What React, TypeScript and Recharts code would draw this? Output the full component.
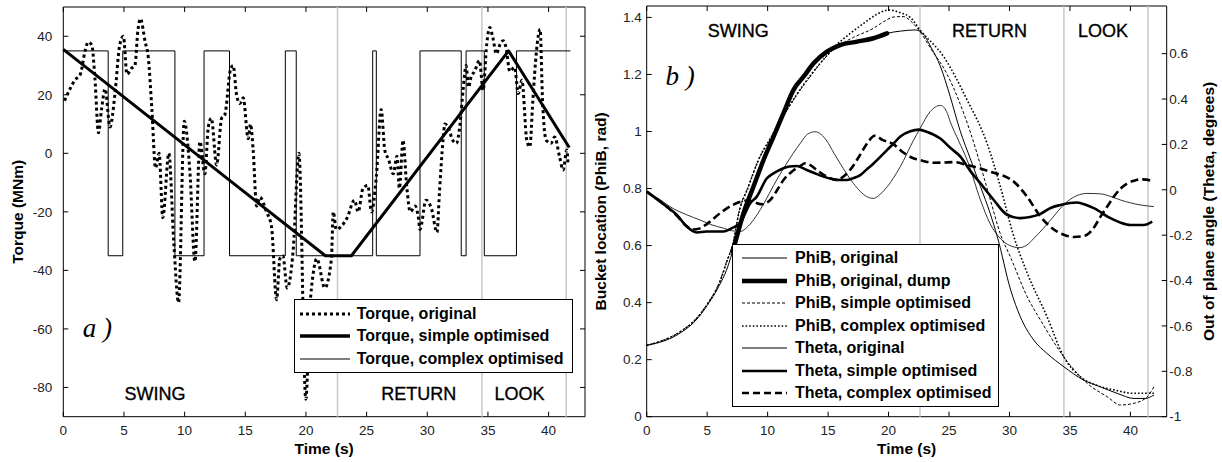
import React from "react";
import {
  LineChart,
  Line,
  XAxis,
  YAxis,
  ReferenceLine,
  ReferenceArea,
  ReferenceDot,
  Legend,
} from "recharts";

// ---- values ----

const timeTicks = [0, 5, 10, 15, 20, 25, 30, 35, 40];
const torqueTicks = [-80, -60, -40, -20, 0, 20, 40];
const phiTicks = [0, 0.2, 0.4, 0.6, 0.8, 1, 1.2, 1.4];
const thetaTicks = [-1, -0.8, -0.6, -0.4, -0.2, 0, 0.2, 0.4, 0.6];

// phase boundaries (s) and the phase captions
const phaseBounds = [22.6, 34.5, 41.45];
const phaseNames = ["SWING", "RETURN", "LOOK"];
const phaseTimesA = [7.55, 29.3, 37.6];
const phaseTimesB = [7.58, 28.34, 37.73];

// [t (s), torque (MNm)]
const torqueOriginal = [
  [0.1, 18], [0.55, 22], [0.95, 25], [1.4, 27], [1.8, 35], [2.05, 38], [2.35, 37],
  [2.6, 26], [2.9, 7], [3.15, 15], [3.45, 22], [3.85, 9], [4.25, 20], [4.65, 37],
  [4.95, 40], [5.25, 27], [5.6, 29], [5.9, 30], [6.15, 42], [6.35, 46], [6.75, 38],
  [7.0, 33], [7.3, 15], [7.6, -5], [7.9, 0], [8.2, -22], [8.7, 0], [9.1, -30],
  [9.5, -51], [9.97, 11], [10.43, -6], [10.85, -37], [11.26, 4], [11.67, -7],
  [11.95, 9], [12.2, 12], [12.64, -4], [13.05, 12], [13.3, 13], [13.8, 29],
  [14.0, 30], [14.28, 20], [14.55, 17], [14.83, 19], [15.24, 5], [15.43, 10],
  [15.65, 1], [15.93, -18], [16.2, -15], [16.75, -20], [17.16, -25], [17.58, -50],
  [17.85, -36], [18.1, -35], [18.45, -46], [18.95, -33], [19.42, 0], [19.99, -84],
  [20.32, -53], [20.6, -41], [20.9, -36], [21.55, -46], [22.1, -36], [22.25, -20],
  [22.5, -26], [22.9, -25], [23.4, -22], [24.0, -16], [24.3, -20], [24.7, -12],
  [25.1, -11], [25.4, -20], [25.8, -8], [26.2, 15], [26.5, 1], [26.8, -2],
  [27.2, -7], [27.5, -1], [27.7, -12], [28.0, 4.5], [28.3, -11], [28.6, -20],
  [29.0, -18], [29.25, -21.5], [29.4, -26], [29.9, -16], [30.35, -19], [30.8, -27],
  [31.0, -13.6], [31.3, 4.5], [31.45, 10], [31.7, 9], [32.1, 4.5], [32.4, 3.4],
  [32.7, 10], [32.95, 21.5], [33.2, 30], [33.4, 22.6], [33.6, 26], [33.9, 28],
  [34.3, 31.7], [34.6, 21.5], [34.9, 37.3], [35.15, 43], [35.4, 39.6], [35.7, 34],
  [36.0, 37.3], [36.25, 38.5], [36.5, 36], [36.8, 28], [37.2, 29.4], [37.5, 20.4],
  [37.8, 25], [38.2, 4.5], [38.45, 2.2], [38.7, 18], [39.0, 35], [39.3, 42.4],
  [39.5, 18], [39.8, 4.5], [40.2, 3.4], [40.5, 5.6], [40.9, -1.1], [41.2, -5.7],
  [41.5, 1.1], [41.6, -3.4],
];
const torqueSimple = [[0, 35.5], [21.6, -35], [23.75, -35], [36.7, 35], [41.7, 2]];
// bang-bang switching: each value is held until the next time
const torqueComplex = [
  [0, 35], [3.7, -35], [4.9, 35], [9.2, -35], [11.6, 35], [13.7, -35], [18.3, 35],
  [19.2, -35], [25.5, 35], [25.8, -35], [29.4, 35], [32.8, -35], [33.2, 35],
  [34.7, -35], [37.35, 35], [41.8, 35],
];

// [t (s), PhiB (rad)]
const phiOriginal = [
  [0, 0.25], [1, 0.26], [2, 0.275], [3, 0.3], [4, 0.335], [5, 0.39], [6, 0.46],
  [6.6, 0.514], [7.3, 0.608], [8.0, 0.713], [8.83, 0.807], [9.66, 0.9], [10.49, 0.982],
  [11.31, 1.064], [12.14, 1.146], [12.97, 1.192], [13.8, 1.239], [14.9, 1.28],
  [16.0, 1.303], [17.4, 1.315], [18.76, 1.327], [19.87, 1.344], [21.0, 1.352],
  [22.2, 1.356], [22.8, 1.345], [23.45, 1.3], [24.3, 1.227], [25.1, 1.122],
  [25.9, 1.005], [26.8, 0.9], [27.6, 0.807], [28.4, 0.713], [29.0, 0.63], [30.1, 0.444],
  [30.9, 0.35], [32.0, 0.269], [33.1, 0.222], [34.5, 0.175], [36.1, 0.129],
  [37.5, 0.105], [38.9, 0.082], [40.3, 0.064], [41.2, 0.064], [41.95, 0.076],
];
const phiDump = [
  [7.1, 0.58], [7.3, 0.608], [8.0, 0.713], [8.83, 0.807], [9.66, 0.9], [10.49, 0.982],
  [11.31, 1.064], [12.14, 1.146], [12.97, 1.192], [13.8, 1.239], [14.9, 1.28],
  [16.0, 1.303], [17.4, 1.315], [18.76, 1.327], [19.87, 1.344],
];
const phiSimple = [
  [0, 0.25], [1, 0.263], [2, 0.28], [3, 0.305], [4, 0.34], [5, 0.395], [6, 0.47],
  [6.6, 0.543], [7.2, 0.62], [7.6, 0.713], [8.4, 0.807], [9.24, 0.9], [10.35, 0.982],
  [11.45, 1.064], [12.7, 1.146], [13.5, 1.192], [14.6, 1.251], [15.73, 1.297],
  [17.1, 1.33], [18.76, 1.362], [19.6, 1.385], [20.5, 1.402], [21.2, 1.403],
  [22.0, 1.38], [22.6, 1.35], [23.5, 1.29], [24.8, 1.204], [26.8, 0.993],
  [28.42, 0.76], [29.25, 0.64], [30.07, 0.561], [31.46, 0.421], [32.56, 0.339],
  [34.49, 0.21], [36.42, 0.117], [38.08, 0.07], [39.18, 0.041], [40.29, 0.047],
  [41.4, 0.07], [41.94, 0.105],
];
const phiComplex = [
  [0, 0.25], [1, 0.262], [2, 0.279], [3, 0.304], [4, 0.339], [5, 0.393], [6, 0.468],
  [6.6, 0.54], [7.2, 0.618], [7.6, 0.71], [8.4, 0.805], [9.24, 0.9], [10.35, 0.985],
  [11.45, 1.066], [12.7, 1.148], [13.5, 1.194], [14.6, 1.252], [15.73, 1.305],
  [16.83, 1.344], [17.94, 1.379], [19.0, 1.41], [20.0, 1.426], [21.0, 1.416],
  [21.8, 1.4], [22.6, 1.356], [24.56, 1.262], [26.5, 1.11], [28.15, 0.958],
  [29.25, 0.806], [30.3, 0.64], [31.5, 0.5], [33.1, 0.351], [34.49, 0.21],
  [35.87, 0.14], [37.2, 0.11], [38.63, 0.094], [40.29, 0.082], [41.94, 0.082],
];

// [t (s), Theta (deg)]
const thetaOriginal = [
  [0, -0.008], [1, -0.04], [2.2, -0.083], [3.3, -0.11], [4.4, -0.133], [5.4, -0.155],
  [6.34, -0.169], [7.0, -0.18], [7.72, -0.184], [8.4, -0.16], [9.0, -0.12],
  [9.8, -0.05], [10.5, 0.02], [11.5, 0.11], [12.7, 0.205], [13.3, 0.245],
  [13.93, 0.256], [14.4, 0.245], [14.9, 0.215], [15.5, 0.16], [16.0, 0.116],
  [17.1, 0.028], [18.2, -0.03], [18.76, -0.038], [19.3, -0.02], [19.9, 0.014],
  [20.97, 0.102], [22.07, 0.219], [22.6, 0.27], [23.45, 0.345], [24.28, 0.372],
  [24.8, 0.345], [25.1, 0.3], [25.8, 0.215], [26.5, 0.131], [27.6, -0.045],
  [28.4, -0.15], [29.25, -0.215], [30.0, -0.245], [30.8, -0.255], [31.4, -0.245],
  [32.0, -0.215], [32.8, -0.17], [33.4, -0.133], [34.77, -0.052], [35.6, -0.025],
  [36.42, -0.016], [37.53, -0.018], [38.4, -0.03], [39.18, -0.045], [40.84, -0.067],
  [41.94, -0.074],
];
const thetaSimple = [
  [0, -0.008], [1.65, -0.074], [2.48, -0.11], [3.31, -0.162], [4.14, -0.188],
  [4.96, -0.184], [5.6, -0.184], [6.34, -0.184], [7.0, -0.17], [7.72, -0.147],
  [8.55, -0.06], [9.1, -0.03], [9.93, 0.05], [10.48, 0.072], [11.31, 0.095],
  [11.8, 0.103], [12.4, 0.105], [13.24, 0.087], [13.8, 0.075], [14.62, 0.058],
  [15.45, 0.046], [16.0, 0.043], [16.56, 0.043], [17.0, 0.05], [17.66, 0.065],
  [18.2, 0.09], [18.76, 0.116], [19.87, 0.175], [20.42, 0.204], [20.97, 0.235],
  [21.8, 0.258], [22.5, 0.265], [23.2, 0.255], [24.28, 0.226], [25.1, 0.185],
  [25.94, 0.146], [26.8, 0.08], [27.6, 0.028], [28.7, -0.045], [29.8, -0.11],
  [30.9, -0.125], [31.7, -0.12], [32.56, -0.106], [33.4, -0.08], [34.2, -0.067],
  [35.0, -0.058], [35.6, -0.056], [36.3, -0.066], [36.97, -0.081], [38.35, -0.125],
  [39.2, -0.145], [40.0, -0.155], [41.1, -0.155], [41.8, -0.14],
];
const thetaComplex = [
  [0, -0.008], [1.65, -0.074], [2.5, -0.115], [3.2, -0.155], [3.8, -0.175],
  [4.4, -0.17], [5.0, -0.15], [6.07, -0.103], [7.0, -0.07], [8.4, -0.047],
  [9.5, -0.064], [10.3, -0.04], [10.8, 0.0], [11.31, 0.043], [12.0, 0.08],
  [12.7, 0.105], [13.1, 0.117], [13.5, 0.11], [14.07, 0.087], [15.0, 0.055],
  [15.73, 0.043], [16.3, 0.06], [17.0, 0.1], [17.6, 0.15], [18.3, 0.21],
  [18.85, 0.238], [19.5, 0.22], [20.42, 0.2], [21.25, 0.163], [22.0, 0.14],
  [22.6, 0.131], [23.7, 0.119], [24.5, 0.12], [25.4, 0.122], [26.5, 0.109],
  [27.6, 0.094], [28.7, 0.075], [29.5, 0.062], [30.35, 0.036], [31.45, -0.03],
  [32.56, -0.118], [33.94, -0.184], [34.6, -0.2], [35.32, -0.208], [36.0, -0.205],
  [36.42, -0.198], [37.0, -0.165], [37.53, -0.118], [38.08, -0.074], [38.63, -0.03],
  [39.18, 0.005], [39.73, 0.028], [40.29, 0.04], [40.84, 0.046], [41.3, 0.045],
  [41.67, 0.04],
];

// ---- styling ----

const FONT = '"Liberation Sans", Arial, Helvetica, sans-serif';
const INK = "#000";
const GRID = "#c8c8c8";

const titleStyle = { fontSize: 15.5, fontWeight: "bold", fill: INK, fontFamily: FONT } as const;
const tickText = { fontSize: 13.5, fill: "#222", fontFamily: FONT } as const;
// phase captions are a touch heavier than regular Arial in the figure
const phaseText = { fontSize: 18, fill: INK, stroke: INK, strokeWidth: 0.35, fontFamily: FONT } as const;
const panelTag = {
  fontSize: 27,
  fontStyle: "italic",
  fill: INK,
  fontFamily: '"Liberation Serif", "Times New Roman", serif',
} as const;

type Box = { left: number; right: number; top: number; bottom: number };
// plot-area edges in each chart's own pixels
const A: Box = { left: 63.3, right: 585, top: 7, bottom: 416.7 };
const B: Box = { left: 56.7, right: 576.7, top: 6, bottom: 416.7 };
const TICK = 5;

const pts = (rows: number[][]) => rows.map(([t, v]) => ({ t, v }));

// MATLAB-style inward ticks, mirrored on the opposite frame edge
const xTick = (box: Box) => (props: any) => {
  const { x, payload } = props;
  return (
    <g>
      <line x1={x} x2={x} y1={box.bottom} y2={box.bottom - TICK} stroke={INK} />
      <line x1={x} x2={x} y1={box.top} y2={box.top + TICK} stroke={INK} />
      <text x={x} y={box.bottom + 18.3} textAnchor="middle" {...tickText}>
        {String(payload.value)}
      </text>
    </g>
  );
};

const leftTick = (box: Box, gap: number, mirror: boolean) => (props: any) => {
  const { y, payload } = props;
  return (
    <g>
      <line x1={box.left} x2={box.left + TICK} y1={y} y2={y} stroke={INK} />
      {mirror && <line x1={box.right} x2={box.right - TICK} y1={y} y2={y} stroke={INK} />}
      <text x={box.left - gap} y={y} dy="0.35em" textAnchor="end" {...tickText}>
        {String(payload.value)}
      </text>
    </g>
  );
};

const rightTick = (box: Box, gap: number) => (props: any) => {
  const { y, payload } = props;
  return (
    <g>
      <line x1={box.right} x2={box.right - TICK} y1={y} y2={y} stroke={INK} />
      <text x={box.right + gap} y={y} dy="0.35em" textAnchor="start" {...tickText}>
        {String(payload.value)}
      </text>
    </g>
  );
};

type LegendItem = { name: string; width: number; dash?: string };

function LegendBox({
  items, width, padTop, padBottom, sampleLeft, sampleWidth, sampleGap,
}: {
  items: LegendItem[]; width: number; padTop: number; padBottom: number;
  sampleLeft: number; sampleWidth: number; sampleGap: number;
}) {
  return (
    <div
      style={{
        width, boxSizing: "border-box", border: "1px solid #000", background: "#fff",
        paddingTop: padTop, paddingBottom: padBottom,
      }}
    >
      {items.map((it) => (
        <div key={it.name} style={{ display: "flex", alignItems: "center", height: 22.5 }}>
          <svg width={sampleWidth} height={10} style={{ marginLeft: sampleLeft, marginRight: sampleGap, flex: "none" }}>
            <line x1={0} x2={sampleWidth} y1={5} y2={5} stroke={INK} strokeWidth={it.width} strokeDasharray={it.dash} />
          </svg>
          <span style={{ font: `bold 16px ${FONT}`, whiteSpace: "nowrap", color: INK, lineHeight: "16px" }}>
            {it.name}
          </span>
        </div>
      ))}
    </div>
  );
}

const torqueLegend: LegendItem[] = [
  { name: "Torque, original", width: 3, dash: "3 3" },
  { name: "Torque, simple optimised", width: 3.5 },
  { name: "Torque, complex optimised", width: 1 },
];

const bucketLegend: LegendItem[] = [
  { name: "PhiB, original", width: 1 },
  { name: "PhiB, original, dump", width: 4.5 },
  { name: "PhiB, simple optimised", width: 1, dash: "3 2" },
  { name: "PhiB, complex optimised", width: 1.6, dash: "1.6 2" },
  { name: "Theta, original", width: 1 },
  { name: "Theta, simple optimised", width: 2.6 },
  { name: "Theta, complex optimised", width: 2.6, dash: "7 4" },
];

function TorquePanel() {
  return (
    <LineChart width={590} height={462} margin={{ top: A.top, right: 590 - A.right, bottom: 0, left: 0 }}>
      <XAxis
        type="number" dataKey="t" domain={[0, 43]} ticks={timeTicks} interval={0}
        height={462 - A.bottom} axisLine={false} tickLine={false} tick={xTick(A)}
        label={{ value: "Time (s)", position: "insideBottom", offset: 8, style: titleStyle }}
      />
      <YAxis
        type="number" domain={[-90, 50]} ticks={torqueTicks} interval={0}
        width={A.left} axisLine={false} tickLine={false} tick={leftTick(A, 11, true)}
        label={{
          value: "Torque (MNm)", angle: -90, position: "insideLeft", offset: 18,
          style: { ...titleStyle, textAnchor: "middle" },
        }}
      />
      <ReferenceArea x1={0} x2={43} y1={-90} y2={50} fill="none" stroke={INK} strokeWidth={1} />
      {phaseBounds.map((t) => (
        <ReferenceLine key={t} x={t} stroke={GRID} strokeWidth={1.5} />
      ))}
      {phaseNames.map((name, i) => (
        <ReferenceDot
          key={name} x={phaseTimesA[i]} y={-82} r={1} fill="none" stroke="none"
          label={{ value: name, position: "center", ...phaseText }}
        />
      ))}
      <ReferenceDot x={2.8} y={-59.5} r={1} fill="none" stroke="none"
        label={{ value: "a )", position: "center", ...panelTag }} />
      <Line data={pts(torqueComplex)} dataKey="v" type="stepAfter" stroke={INK} strokeWidth={1}
        dot={false} isAnimationActive={false} />
      <Line data={pts(torqueSimple)} dataKey="v" type="linear" stroke={INK} strokeWidth={3}
        strokeLinejoin="round" dot={false} isAnimationActive={false} />
      <Line data={pts(torqueOriginal)} dataKey="v" type="monotone" stroke={INK} strokeWidth={3}
        strokeDasharray="3 3" dot={false} isAnimationActive={false} />
      <Legend
        layout="vertical" align="center" verticalAlign="middle"
        wrapperStyle={{ left: 294, top: 299, width: 279 }}
        content={() => (
          <LegendBox items={torqueLegend} width={279} padTop={2.5} padBottom={2}
            sampleLeft={5} sampleWidth={50} sampleGap={6.7} />
        )}
      />
    </LineChart>
  );
}

function BucketPanel() {
  return (
    <LineChart width={632} height={462} margin={{ top: B.top, right: 0, bottom: 0, left: 0 }}>
      <XAxis
        type="number" dataKey="t" domain={[0, 43]} ticks={timeTicks} interval={0}
        height={462 - B.bottom} axisLine={false} tickLine={false} tick={xTick(B)}
        label={{ value: "Time (s)", position: "insideBottom", offset: 8, style: titleStyle }}
      />
      <YAxis
        yAxisId="left" type="number" domain={[0, 1.44]} ticks={phiTicks} interval={0}
        width={B.left} axisLine={false} tickLine={false} tick={leftTick(B, 5, false)}
        label={{
          value: "Bucket location (PhiB, rad)", angle: -90, position: "insideLeft", offset: 11,
          style: { ...titleStyle, textAnchor: "middle" },
        }}
      />
      <YAxis
        yAxisId="right" orientation="right" type="number" domain={[-1, 0.81]} ticks={thetaTicks}
        interval={0} width={632 - B.right} axisLine={false} tickLine={false} tick={rightTick(B, 2.6)}
        label={{
          value: "Out of plane angle (Theta, degrees)", angle: -90, position: "insideRight", offset: 13,
          style: { ...titleStyle, textAnchor: "middle" },
        }}
      />
      <ReferenceArea yAxisId="left" x1={0} x2={43} y1={0} y2={1.44} fill="none" stroke={INK} strokeWidth={1} />
      {phaseBounds.map((t) => (
        <ReferenceLine key={t} yAxisId="left" x={t} stroke={GRID} strokeWidth={1.5} />
      ))}
      {phaseNames.map((name, i) => (
        <ReferenceDot
          key={name} yAxisId="left" x={phaseTimesB[i]} y={1.353} r={1} fill="none" stroke="none"
          label={{ value: name, position: "center", ...phaseText }}
        />
      ))}
      <ReferenceDot yAxisId="left" x={2.76} y={1.195} r={1} fill="none" stroke="none"
        label={{ value: "b )", position: "center", ...panelTag }} />

      <Line yAxisId="right" data={pts(thetaOriginal)} dataKey="v" type="monotone" stroke="#333"
        strokeWidth={1} dot={false} isAnimationActive={false} />
      <Line yAxisId="right" data={pts(thetaSimple)} dataKey="v" type="monotone" stroke={INK}
        strokeWidth={2.6} dot={false} isAnimationActive={false} />
      <Line yAxisId="right" data={pts(thetaComplex)} dataKey="v" type="monotone" stroke={INK}
        strokeWidth={2.6} strokeDasharray="8 4" dot={false} isAnimationActive={false} />

      <Line yAxisId="left" data={pts(phiOriginal)} dataKey="v" type="monotone" stroke={INK}
        strokeWidth={1} dot={false} isAnimationActive={false} />
      <Line yAxisId="left" data={pts(phiSimple)} dataKey="v" type="monotone" stroke={INK}
        strokeWidth={1} strokeDasharray="3 2" dot={false} isAnimationActive={false} />
      <Line yAxisId="left" data={pts(phiComplex)} dataKey="v" type="monotone" stroke={INK}
        strokeWidth={1.6} strokeDasharray="1.6 2" dot={false} isAnimationActive={false} />
      <Line yAxisId="left" data={pts(phiDump)} dataKey="v" type="monotone" stroke={INK}
        strokeWidth={4.5} strokeLinecap="round" dot={false} isAnimationActive={false} />

      <Legend
        layout="vertical" align="center" verticalAlign="middle"
        wrapperStyle={{ left: 142, top: 244, width: 267 }}
        content={() => (
          <LegendBox items={bucketLegend} width={267} padTop={2} padBottom={1.5}
            sampleLeft={8.7} sampleWidth={45} sampleGap={8.3} />
        )}
      />
    </LineChart>
  );
}

export default function App() {
  return (
    <div style={{ position: "relative", width: 1222, height: 462, background: "#fff", fontFamily: FONT }}>
      <style>{"body{margin:0}"}</style>
      <div style={{ position: "absolute", left: 0, top: 0 }}>
        <TorquePanel />
      </div>
      <div style={{ position: "absolute", left: 590, top: 0 }}>
        <BucketPanel />
      </div>
    </div>
  );
}
